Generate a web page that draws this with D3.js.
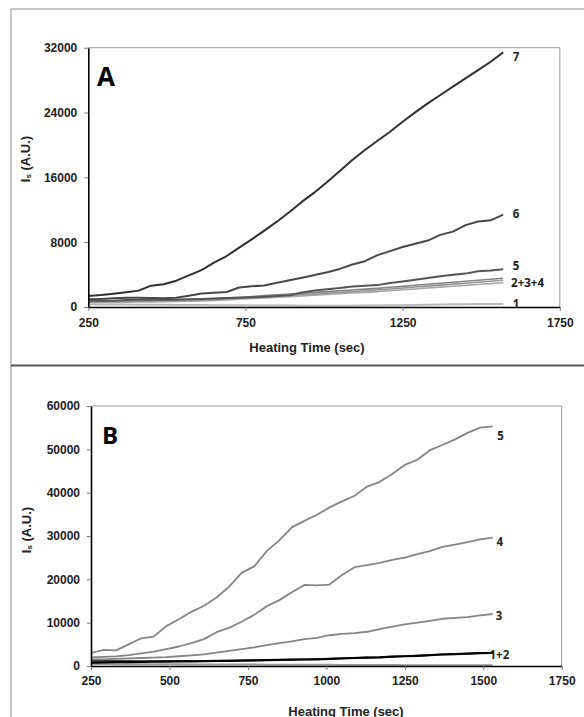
<!DOCTYPE html>
<html>
<head>
<meta charset="utf-8">
<script src="https://cdn.jsdelivr.net/npm/d3@7"></script>
<style>
  body { margin: 0; background: #fff; }
  text { font-family: "Liberation Sans", Arial, sans-serif; font-weight: bold; }
</style>
</head>
<body>
<script>
// Panel A data (heating time in sec, scattered intensity in A.U.)
const timesA = [250,290,330,370,410,450,490,530,570,610,650,690,730,770,810,850,890,930,970,1010,1050,1090,1130,1170,1210,1250,1290,1330,1370,1410,1450,1490,1530,1570];
const a1 = [330,320,310,300,290,280,270,260,250,240,230,220,210,200,190,180,170,160,150,150,150,160,170,190,210,230,260,290,310,330,350,360,370,370];
const a2 = [550,560,570,590,610,630,660,690,720,760,800,880,960,1040,1120,1200,1280,1360,1450,1540,1630,1720,1810,1900,2010,2120,2230,2340,2450,2560,2670,2780,2890,3000];
const a3 = [650,660,670,690,710,740,770,800,830,860,900,990,1080,1170,1260,1350,1440,1530,1620,1710,1800,1900,2000,2100,2220,2340,2460,2580,2700,2820,2940,3060,3180,3300];
const a4 = [750,760,780,800,830,860,900,930,950,980,1000,1100,1200,1300,1400,1500,1600,1700,1800,1900,2000,2100,2200,2300,2430,2550,2680,2800,2930,3050,3180,3300,3430,3550];
const a5 = [800,780,760,850,900,920,900,900,950,1000,1050,1100,1150,1200,1280,1350,1450,1800,2050,2200,2350,2520,2620,2700,2950,3150,3350,3580,3800,3980,4120,4400,4500,4660];
const a6 = [950,1000,1080,1150,1130,1100,1080,1150,1400,1670,1760,1850,2400,2560,2650,3000,3300,3600,3950,4300,4700,5250,5650,6400,6900,7400,7800,8200,8900,9300,10100,10550,10700,11400];
const a7 = [1360,1480,1640,1810,2020,2630,2800,3250,3900,4560,5470,6290,7320,8350,9420,10530,11720,13000,14150,15420,16780,18140,19370,20520,21630,22870,24020,25130,26160,27190,28220,29240,30270,31420];

// Panel B data
const timesB = [250,290,330,370,410,450,490,530,570,610,650,690,730,770,810,850,890,930,970,1010,1050,1090,1130,1170,1210,1250,1290,1330,1370,1410,1450,1490,1530];
const b0 = [450,440,430,420,410,400,390,380,370,360,350,340,330,320,310,300,290,280,270,260,250,240,230,220,210,200,190,180,170,160,150,150,150];
const b1 = [800,850,880,900,950,1000,1020,1050,1080,1100,1150,1200,1250,1300,1350,1400,1450,1500,1550,1650,1750,1850,1950,2000,2150,2250,2350,2500,2650,2750,2850,2950,3000];
const b2 = [1200,1180,1160,1150,1140,1140,1150,1160,1180,1200,1230,1260,1290,1330,1370,1420,1470,1520,1570,1660,1760,1860,1960,2020,2160,2260,2360,2510,2660,2760,2860,2960,3010];
const b3 = [1500,1550,1650,1750,1850,1950,2050,2250,2450,2700,3100,3500,3900,4300,4800,5300,5700,6200,6500,7100,7400,7600,7900,8500,9100,9600,10000,10400,10900,11100,11300,11700,12000];
const b4 = [2000,2100,2200,2500,2900,3300,3900,4500,5300,6200,7800,8800,10200,11800,13800,15200,17000,18700,18600,18800,21000,22800,23300,23800,24500,25000,25800,26500,27500,28000,28600,29200,29600];
const b5 = [3000,3700,3600,5000,6400,6800,9200,10800,12500,13900,15800,18300,21500,23000,26500,29000,32000,33500,34900,36600,38000,39300,41400,42500,44300,46400,47600,49800,51000,52300,53800,55000,55300];

// ticks
const ticksAx = [250, 750, 1250, 1750];
const ticksAy = [0, 8000, 16000, 24000, 32000];
const ticksBx = [250, 500, 750, 1000, 1250, 1500, 1750];
const ticksBy = [0, 10000, 20000, 30000, 40000, 50000, 60000];

// end labels: text, time, value where the label sits
const labelsA = [["7", 1600, 30900], ["6", 1600, 11490], ["5", 1600, 5150], ["2+3+4", 1595, 3050], ["1", 1600, 490]];
const labelsB = [["5", 1545, 53080], ["4", 1542, 28690], ["3", 1540, 11540], ["1+2", 1520, 2540]];

const svg = d3.select("body").append("svg")
  .attr("width", 584)
  .attr("height", 717);

// panel frames
svg.append("line").attr("x1", 11).attr("y1", 9).attr("x2", 584).attr("y2", 9)
  .attr("stroke", "#8a8a8a").attr("stroke-width", 1);
svg.append("line").attr("x1", 11).attr("y1", 9).attr("x2", 11).attr("y2", 717)
  .attr("stroke", "#b5b5b5").attr("stroke-width", 1.5);
svg.append("line").attr("x1", 11).attr("y1", 365.5).attr("x2", 584).attr("y2", 365.5)
  .attr("stroke", "#555").attr("stroke-width", 2);

function panel(opt) {
  const x = d3.scaleLinear().domain([250, 1750]).range([opt.left, opt.right]);
  const y = d3.scaleLinear().domain(opt.yDomain).range([opt.bottom, opt.top]);
  const g = svg.append("g");

  // thin frame top + right
  g.append("path")
    .attr("d", `M${opt.left},${opt.top}H${opt.right}V${opt.bottom}`)
    .attr("fill", "none").attr("stroke", "#9a9a9a").attr("stroke-width", 1);

  const line = d3.line()
    .x((d, i) => x(opt.times[i]))
    .y(d => y(d));

  opt.series.forEach(s => {
    g.append("path")
      .datum(s.values)
      .attr("d", line)
      .attr("fill", "none")
      .attr("stroke", s.color)
      .attr("stroke-width", s.width)
      .attr("stroke-linejoin", "round");
  });

  const ax = g.append("g")
    .attr("transform", `translate(0,${opt.bottom})`)
    .call(d3.axisBottom(x).tickValues(opt.ticksX).tickSize(4).tickSizeOuter(0).tickPadding(opt.padX).tickFormat(d3.format("d")));
  const ay = g.append("g")
    .attr("transform", `translate(${opt.left},0)`)
    .call(d3.axisLeft(y).tickValues(opt.ticksY).tickSize(4).tickSizeOuter(0).tickPadding(7).tickFormat(d3.format("d")));

  [ax, ay].forEach(a => {
    a.select(".domain").attr("stroke", "#000").attr("stroke-width", 1.6);
    a.selectAll(".tick line").attr("stroke", "#777");
    a.selectAll("text")
      .attr("fill", "#222")
      .style("font-size", "12px")
      .style("font-family", "'Liberation Sans', Arial, sans-serif")
      .style("font-weight", "bold");
  });

  // panel letter
  g.append("text")
    .attr("x", opt.letterX).attr("y", opt.letterY)
    .style("font-family", "'Open Sans', sans-serif")
    .style("font-size", opt.letterSize + "px")
    .attr("fill", "#000")
    .text(opt.letter);

  // line labels
  opt.labels.forEach(l => {
    g.append("text")
      .attr("x", x(l[1])).attr("y", y(l[2]))
      .attr("dominant-baseline", "central")
      .style("font-family", "'Open Sans', sans-serif")
      .style("font-size", "11.5px")
      .attr("fill", "#222")
      .text(l[0]);
  });

  // axis titles
  g.append("text")
    .attr("x", opt.xTitleX).attr("y", opt.xTitleY)
    .attr("text-anchor", "middle")
    .attr("dominant-baseline", "central")
    .style("font-size", "13px")
    .attr("fill", "#222")
    .text("Heating Time (sec)");

  const yt = g.append("text")
    .attr("transform", `translate(${opt.yTitleX},${opt.yTitleY}) rotate(-90)`)
    .attr("text-anchor", "middle")
    .attr("dominant-baseline", "central")
    .style("font-size", "13px")
    .attr("fill", "#222");
  yt.append("tspan").text("I");
  yt.append("tspan").attr("dy", 3).style("font-size", "8px").text("s");
  yt.append("tspan").attr("dy", -3).text(" (A.U.)");
}

panel({
  left: 88.3, right: 559.8, top: 47.7, bottom: 307,
  yDomain: [0, 32000], times: timesA,
  ticksX: ticksAx, ticksY: ticksAy, padX: 7,
  series: [
    { values: a1, color: "#b8b8b8", width: 2 },
    { values: a2, color: "#a8a8a8", width: 1.6 },
    { values: a3, color: "#969696", width: 1.6 },
    { values: a4, color: "#858585", width: 1.6 },
    { values: a5, color: "#555", width: 2 },
    { values: a6, color: "#484848", width: 2 },
    { values: a7, color: "#303030", width: 2 }
  ],
  labels: labelsA,
  letter: "A", letterX: 97, letterY: 86, letterSize: 26,
  xTitleX: 307, xTitleY: 347,
  yTitleX: 25, yTitleY: 159
});

panel({
  left: 91, right: 561.7, top: 406, bottom: 666,
  yDomain: [0, 60000], times: timesB,
  ticksX: ticksBx, ticksY: ticksBy, padX: 6.5,
  series: [
    { values: b0, color: "#9a9a9a", width: 2 },
    { values: b3, color: "#858585", width: 1.8 },
    { values: b4, color: "#858585", width: 1.8 },
    { values: b5, color: "#858585", width: 1.8 },
    { values: b2, color: "#444", width: 1.8 },
    { values: b1, color: "#000", width: 2.2 }
  ],
  labels: labelsB,
  letter: "B", letterX: 102, letterY: 444, letterSize: 24,
  xTitleX: 346, xTitleY: 711,
  yTitleX: 26, yTitleY: 530
});
</script>
</body>
</html>
